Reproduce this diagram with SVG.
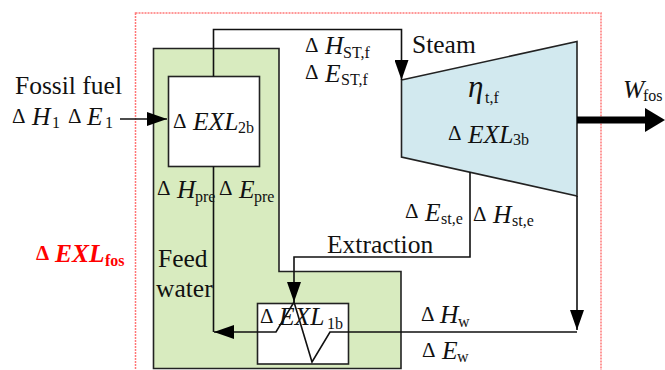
<svg xmlns="http://www.w3.org/2000/svg" width="665" height="370" viewBox="0 0 665 370">
<style>
text{font-family:"Liberation Serif","Times New Roman",serif;font-size:25.500px;fill:#111}
.i{font-style:italic}
.s{font-size:16px}
.d{font-size:21px}
.e{font-size:31px}
.r{fill:#f00;font-weight:bold}
.l{fill:none;stroke:#111;stroke-width:1.6}
.b{stroke:#222;stroke-width:1.6}
</style>
<defs>
<marker id="a" markerUnits="userSpaceOnUse" markerWidth="20" markerHeight="14" refX="20" refY="7" orient="auto"><path d="M0 0L20 7L0 14Z" fill="#000"/></marker>
</defs>
<rect x="135.500" y="13" width="465.500" height="380" fill="none" stroke="#f77" stroke-width="1.500" stroke-dasharray="2 1"/>
<g id="preheater">
<path class="b" d="M153.500 48.500H279V271.500H401V368.500H153.500Z" fill="#d8ebbf"/>
</g>
<g id="exl2b">
<rect class="b" x="168.500" y="76.500" width="91" height="90" fill="#fff"/>
<text x="173" y="127.500" class="d">Δ</text><text x="193" y="130" class="i">EXL</text><text x="238" y="133" class="s">2b</text>
</g>
<g id="turbine">
<path class="b" d="M401.500 80L577 41.500V196L401.500 157Z" fill="#d2e9ef"/>
<text x="468" y="97" class="i e">η</text><text x="485" y="103" class="s">t,f</text>
<text x="448" y="140" class="d">Δ</text><text x="468" y="142.500" class="i">EXL</text><text x="513" y="145" class="s">3b</text>
</g>
<g id="exl1b">
<rect class="b" x="257.500" y="303.500" width="91" height="60.500" fill="#fff"/>
</g>
<g id="connectors">
<path class="l" d="M213.500 76.500V29.500H401.500V80" marker-end="url(#a)"/>
<path class="l" d="M120 119H167" marker-end="url(#a)"/>
<path class="l" d="M213.500 166.500V332"/>
<path class="l" d="M470 172V257H294V302" marker-end="url(#a)"/>
<path class="l" d="M577 196V330" marker-end="url(#a)"/>
<path class="l" d="M577 332H330L312 362L294 302L276 332H214" marker-end="url(#a)"/>
<path d="M577 120H646" stroke="#000" stroke-width="7" fill="none"/>
<path d="M645 108L665 120L645 132Z" fill="#000"/>
</g>
<g id="labels">
<text x="15" y="94">Fossil fuel</text>
<text x="12" y="122.500" class="d">Δ</text><text x="32" y="125" class="i">H</text><text x="52" y="128" class="s">1</text>
<text x="68" y="122.500" class="d">Δ</text><text x="87" y="125" class="i">E</text><text x="105" y="128" class="s">1</text>
<text x="305" y="51.500" class="d">Δ</text><text x="325" y="54" class="i">H</text><text x="343" y="58" class="s">ST,f</text>
<text x="305" y="79" class="d">Δ</text><text x="325" y="81.500" class="i">E</text><text x="341" y="85" class="s">ST,f</text>
<text x="412" y="53">Steam</text>
<text x="623" y="98" class="i">W</text><text x="643" y="101" class="s">fos</text>
<text x="157" y="195" class="d">Δ</text><text x="177" y="197.500" class="i">H</text><text x="195" y="201.500" class="s">pre</text>
<text x="219" y="195" class="d">Δ</text><text x="239" y="197.500" class="i">E</text><text x="254" y="201.500" class="s">pre</text>
<text x="36" y="260" class="d r">Δ</text><text x="55" y="261.500" class="i r">EXL</text><text x="105" y="266" class="s r">fos</text>
<text x="158" y="267">Feed</text><text x="156" y="297">water</text>
<text x="327" y="253">Extraction</text>
<text x="405" y="218" class="d">Δ</text><text x="425" y="220.500" class="i">E</text><text x="441" y="224" class="s">st,e</text>
<text x="473" y="220.500" class="d">Δ</text><text x="493" y="222.500" class="i">H</text><text x="512" y="225.500" class="s">st,e</text>
<text x="260" y="322.500" class="d">Δ</text><text x="279" y="325" class="i">EXL</text><text x="327" y="329" class="s">1b</text>
<text x="421" y="320.500" class="d">Δ</text><text x="440" y="322.500" class="i">H</text><text x="458" y="327" class="s">w</text>
<text x="422" y="356.500" class="d">Δ</text><text x="442" y="359" class="i">E</text><text x="457" y="362" class="s">w</text>
</g>
</svg>
